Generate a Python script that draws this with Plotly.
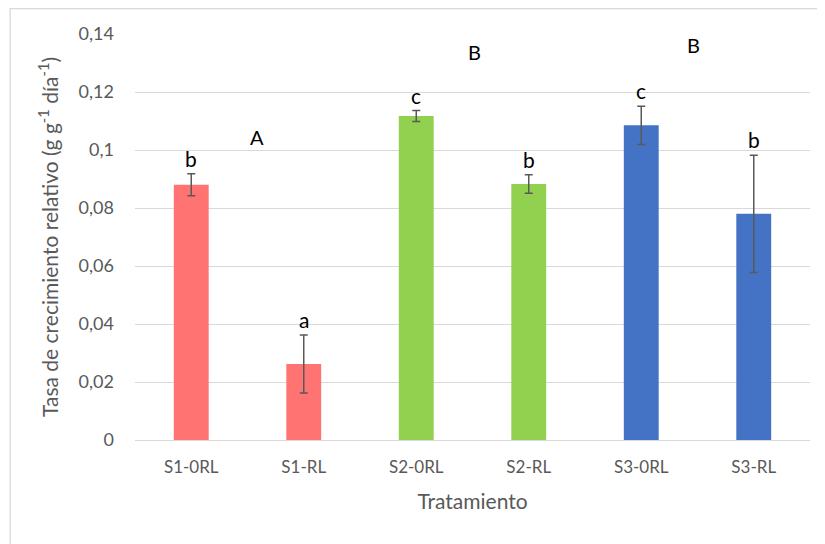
import plotly.graph_objects as go

categories = ["S1-0RL", "S1-RL", "S2-0RL", "S2-RL", "S3-0RL", "S3-RL"]
values = [0.0880, 0.0262, 0.1117, 0.0883, 0.1085, 0.0780]
errors = [0.0038, 0.0100, 0.0019, 0.0032, 0.0066, 0.0202]
bar_colors = ["#FF7373", "#FF7373", "#92D050", "#92D050", "#4472C4", "#4472C4"]
sig_letters = ["b", "a", "c", "b", "c", "b"]

group_labels = ["A", "B", "B"]
group_x = [0.58, 2.52, 4.46]
group_y = [0.1045, 0.1338, 0.1362]

tick_vals = [0, 0.02, 0.04, 0.06, 0.08, 0.1, 0.12, 0.14]
tick_text = ["0", "0,02", "0,04", "0,06", "0,08", "0,1", "0,12", "0,14"]

FONT = "Lato, Open Sans, sans-serif"
GRAY = "#595959"

fig = go.Figure()
fig.add_trace(go.Bar(
    x=categories, y=values,
    marker=dict(color=bar_colors, line=dict(width=0)),
    width=0.31,
    error_y=dict(type="data", array=errors, visible=True,
                 color="#595959", thickness=1.5, width=4),
))

annotations = []
for c, v, e, t in zip(categories, values, errors, sig_letters):
    annotations.append(dict(x=c, y=v + e, text=t, showarrow=False,
                            xref="x", yref="y", yanchor="bottom", yshift=1,
                            font=dict(family=FONT, size=21, color="#000000")))
for gx, gy, gt in zip(group_x, group_y, group_labels):
    annotations.append(dict(x=gx, y=gy, text=gt, showarrow=False,
                            xref="x", yref="y", yanchor="middle",
                            font=dict(family=FONT, size=20, color="#000000")))

fig.update_layout(
    width=825, height=544,
    margin=dict(l=127, r=23, t=26, b=112),
    paper_bgcolor="white", plot_bgcolor="white",
    showlegend=False,
    annotations=annotations,
    font=dict(family=FONT, color=GRAY),
    xaxis=dict(
        type="category",
        showgrid=False, showline=False, ticks="",
        tickfont=dict(family=FONT, size=17, color=GRAY),
        ticklabelstandoff=15,
        title=dict(text="Tratamiento", font=dict(family=FONT, size=21, color=GRAY), standoff=18),
        range=[-0.5, 5.5],
    ),
    yaxis=dict(
        range=[0, 0.14],
        tickvals=tick_vals, ticktext=tick_text,
        showgrid=True, gridcolor="#D9D9D9", gridwidth=1.3,
        zeroline=True, zerolinecolor="#D9D9D9", zerolinewidth=1.3,
        showline=False, ticks="",
        tickfont=dict(family=FONT, size=18, color=GRAY),
        ticklabelstandoff=20,
        title=dict(text="Tasa de crecimiento relativo (g g<sup>-1</sup> día<sup>-1</sup>)",
                   font=dict(family=FONT, size=21, color=GRAY), standoff=14),
    ),
    shapes=[dict(type="rect", xref="paper", yref="paper",
                 x0=-0.185, x1=1.12, y0=-0.35, y1=1.0628,
                 line=dict(color="#D9D9D9", width=1.3), fillcolor="rgba(0,0,0,0)",
                 layer="below")],
)

fig.write_html("out.html")
